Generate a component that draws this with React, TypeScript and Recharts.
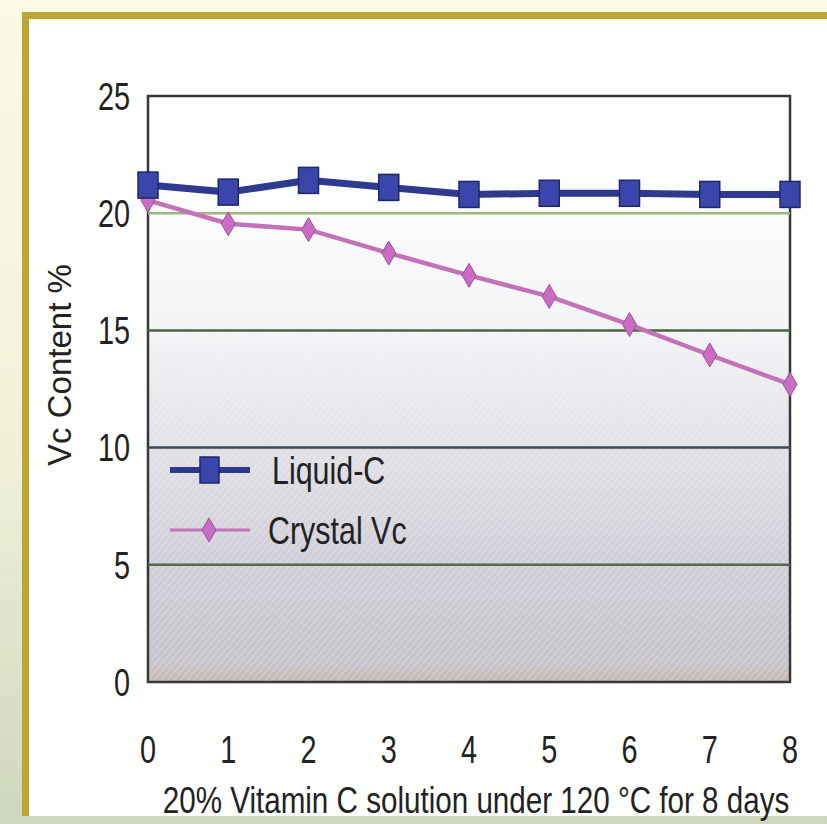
import React from "react";
import { LineChart, Line, XAxis, YAxis, ReferenceArea, ReferenceLine, Legend } from "recharts";

// values
const days = [0, 1, 2, 3, 4, 5, 6, 7, 8];
const liquidC = [21.2, 20.9, 21.4, 21.1, 20.8, 20.85, 20.85, 20.8, 20.8];
const crystalVc = [20.55, 19.55, 19.3, 18.3, 17.35, 16.45, 15.25, 13.95, 12.7];
const yTicks = [0, 5, 10, 15, 20, 25];
const seriesNames = ["Liquid-C", "Crystal Vc"];
const xTitle = "20% Vitamin C solution under 120 °C for 8 days";
const yTitle = "Vc Content %";

const data = days.map((d, i) => ({ day: d, liquid: liquidC[i], crystal: crystalVc[i] }));

const SANS = "'Liberation Sans', Arial, sans-serif";
const TEXT = "#222";
const SQUEEZE = 0.74;

const LIQUID_LINE = "#2f3a8e";
const CRYSTAL_LINE = "#c372b9";
const seriesColors = [LIQUID_LINE, CRYSTAL_LINE];

const gridColors: Record<number, string> = {
  20: "#9fb67c",
  15: "#4e6244",
  10: "#3e4650",
  5: "#55664a",
};

function SquareDot(props: any) {
  const { cx, cy, index } = props;
  if (cx == null || cy == null) return <g key={index} />;
  return (
    <rect key={index} x={cx - 10} y={cy - 13} width={20} height={26} fill="#3b46ad" stroke="#1f2768" strokeWidth={1.5} />
  );
}

function DiamondDot(props: any) {
  const { cx, cy, index } = props;
  if (cx == null || cy == null) return <g key={index} />;
  return (
    <polygon
      key={index}
      points={`${cx},${cy - 12} ${cx + 7},${cy} ${cx},${cy + 12} ${cx - 7},${cy}`}
      fill="#c96cc3"
      stroke="#a24ea0"
      strokeWidth={1}
    />
  );
}

function XTick(props: any) {
  const { x, y, payload } = props;
  return (
    <text
      transform={`translate(${x},${y}) scale(${SQUEEZE},1)`}
      textAnchor="middle"
      dy="0.71em"
      fontFamily={SANS}
      fontSize={39}
      fill={TEXT}
    >
      {payload.value}
    </text>
  );
}

function YTick(props: any) {
  const { x, y, payload } = props;
  return (
    <text
      transform={`translate(${x},${y}) scale(${SQUEEZE},1)`}
      textAnchor="end"
      dy="0.355em"
      fontFamily={SANS}
      fontSize={39}
      fill={TEXT}
    >
      {payload.value}
    </text>
  );
}

function YTitle(props: any) {
  const { x, y, height } = props.viewBox;
  const cx = x + 11;
  const cy = y + height / 2 - 24;
  return (
    <text
      x={cx}
      y={cy}
      transform={`rotate(-90, ${cx}, ${cy})`}
      textAnchor="middle"
      dominantBaseline="central"
      fontFamily={SANS}
      fontSize={33}
      fill={TEXT}
    >
      {yTitle}
    </text>
  );
}

function XTitle(props: any) {
  const { x, y, width } = props.viewBox;
  const tx = x + width / 2 + 7;
  const ty = y + 131;
  return (
    <text
      transform={`translate(${tx},${ty}) scale(0.8,1)`}
      textAnchor="middle"
      fontFamily={SANS}
      fontSize={37}
      fill={TEXT}
    >
      {xTitle}
    </text>
  );
}

function LegendContent() {
  return (
    <div>
      {seriesNames.map((name, i) => (
        <div key={name} style={{ display: "flex", alignItems: "center", height: 60 }}>
          <svg width={100} height={30} style={{ marginRight: i === 0 ? 7 : 3 }}>
            <line x1={5} y1={15} x2={85} y2={15} stroke={seriesColors[i]} strokeWidth={i === 0 ? 6 : 3} />
            {i === 0 ? (
              <rect x={35} y={2} width={19} height={26} fill="#3b46ad" stroke="#1f2768" strokeWidth={1.5} />
            ) : (
              <polygon points="44,3 51,15 44,27 37,15" fill="#c96cc3" stroke="#a24ea0" />
            )}
          </svg>
          <span
            style={{
              display: "inline-block",
              fontFamily: SANS,
              fontSize: 39,
              color: TEXT,
              lineHeight: 1,
              transform: `scaleX(${SQUEEZE + 0.04})`,
              transformOrigin: "left center",
              whiteSpace: "nowrap",
            }}
          >
            {name}
          </span>
        </div>
      ))}
    </div>
  );
}

export default function App() {
  return (
    <div
      style={{
        position: "absolute",
        left: 0,
        top: 0,
        width: 827,
        height: 824,
        overflow: "hidden",
        background: "linear-gradient(to bottom, #fcf9e4 0%, #f1f1da 55%, #ced7bd 100%)",
      }}
    >
      <div
        style={{
          position: "absolute",
          left: 22,
          top: 12,
          width: 900,
          height: 804,
          boxSizing: "border-box",
          borderTop: "7px solid #bba634",
          borderLeft: "7px solid #bba634",
          background: "#fffffd",
        }}
      />
      <div style={{ position: "absolute", left: 0, top: 0 }}>
        <LineChart width={827} height={824} data={data} margin={{ top: 96, right: 37, bottom: 10, left: 48 }}>
          <defs>
            <linearGradient id="plotBg" x1="0" y1="0" x2="0" y2="1">
              <stop offset="0%" stopColor="#ffffff" />
              <stop offset="20%" stopColor="#fbfdfd" />
              <stop offset="40%" stopColor="#f3f4f6" />
              <stop offset="60%" stopColor="#e1e1e6" />
              <stop offset="80%" stopColor="#d0ced7" />
              <stop offset="97%" stopColor="#c7c3ca" />
              <stop offset="100%" stopColor="#c9b9b4" />
            </linearGradient>
            <pattern id="hatch" width="5" height="5" patternUnits="userSpaceOnUse" patternTransform="rotate(40)">
              <line x1="0" y1="0" x2="0" y2="5" stroke="#ffffff" strokeWidth="1.4" strokeOpacity="0.4" />
            </pattern>
          </defs>
          <XAxis
            dataKey="day"
            type="number"
            domain={[0, 8]}
            ticks={days}
            tickLine={false}
            axisLine={false}
            tickSize={0}
            tickMargin={53}
            height={132}
            tick={<XTick />}
            label={{ content: <XTitle /> }}
          />
          <YAxis
            type="number"
            domain={[0, 25]}
            ticks={yTicks}
            tickLine={false}
            axisLine={false}
            tickSize={0}
            tickMargin={18}
            width={100}
            tick={<YTick />}
            label={{ content: <YTitle /> }}
          />
          <ReferenceArea x1={0} x2={8} y1={0} y2={25} fill="url(#plotBg)" fillOpacity={1} stroke="none" />
          <ReferenceArea x1={0} x2={8} y1={0} y2={15} fill="url(#hatch)" fillOpacity={1} stroke="none" />
          {yTicks
            .filter((v) => gridColors[v])
            .map((v) => (
              <ReferenceLine key={v} y={v} stroke={gridColors[v]} strokeWidth={2.5} />
            ))}
          <ReferenceArea x1={0} x2={8} y1={0} y2={25} fill="none" stroke="#353a38" strokeWidth={2.5} />
          <Line
            dataKey="crystal"
            name={seriesNames[1]}
            stroke={CRYSTAL_LINE}
            strokeWidth={4.5}
            dot={<DiamondDot />}
            activeDot={false}
            isAnimationActive={false}
          />
          <Line
            dataKey="liquid"
            name={seriesNames[0]}
            stroke={LIQUID_LINE}
            strokeWidth={7}
            dot={<SquareDot />}
            activeDot={false}
            isAnimationActive={false}
          />
          <Legend
            layout="vertical"
            align="center"
            verticalAlign="middle"
            content={<LegendContent />}
            wrapperStyle={{ left: 165, top: 440, width: 300, height: 120 }}
          />
        </LineChart>
      </div>
    </div>
  );
}
